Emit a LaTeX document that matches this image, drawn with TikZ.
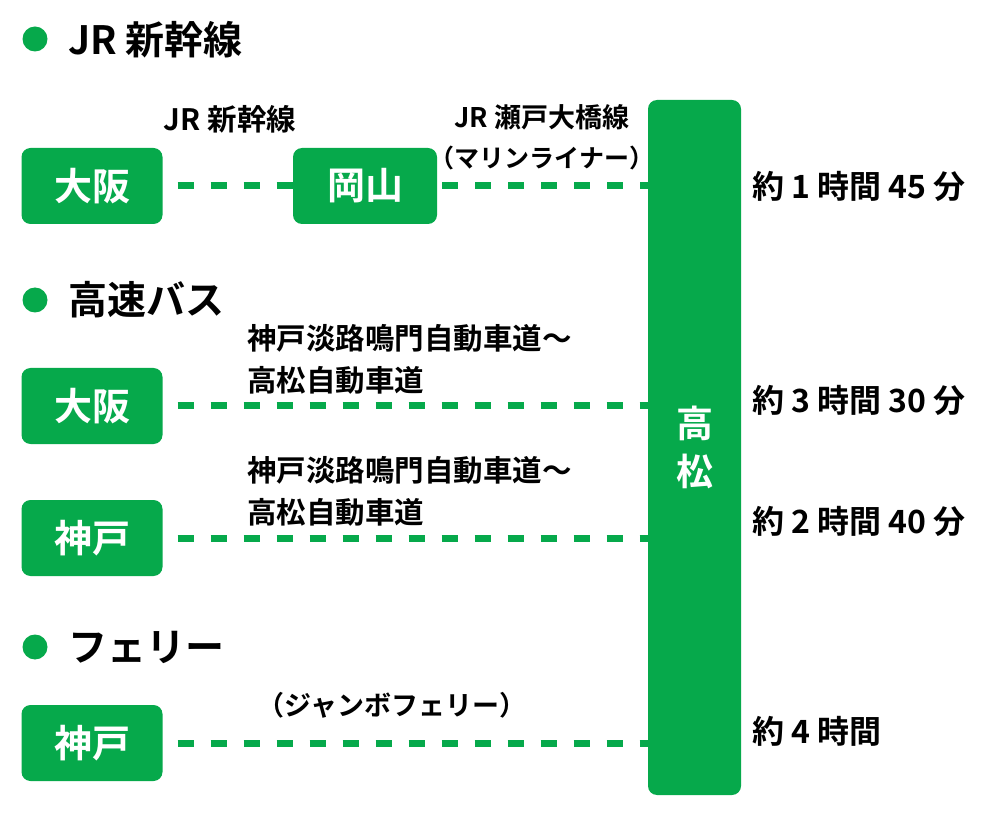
\documentclass[tikz,border=0pt]{standalone}
\usepackage{fontspec}
\setmainfont{Noto Sans CJK JP}[BoldFont={Noto Sans CJK JP Bold}]
\usepackage{tikz}
\usetikzlibrary{positioning}
\definecolor{routegreen}{HTML}{06A94B}
\tikzstyle{station}    = [rectangle, rounded corners=9pt, minimum width=141pt, minimum height=76pt,
    text centered, fill=routegreen, text=white, font=\bfseries\fontsize{38}{40}\selectfont]
\tikzstyle{heading}    = [anchor=west, inner sep=0pt, font=\bfseries\fontsize{39}{40}\selectfont]
\tikzstyle{bullet}     = [circle, fill=routegreen, minimum size=25pt, inner sep=0pt]
\tikzstyle{routelabel} = [inner sep=0pt, font=\bfseries\fontsize{29.5}{42}\selectfont]
\tikzstyle{duration}   = [anchor=west, inner sep=0pt, font=\bfseries\fontsize{32}{34}\selectfont]
\tikzstyle{route}      = [routegreen, line width=7pt, dash pattern=on 16pt off 17pt]
\begin{document}
\begin{tikzpicture}[x=1pt, y=-1pt]
    \useasboundingbox (0,0) rectangle (986,818);
    % headings
    \node (dotjr)    [bullet] at (35,39)  {};
    \node (headjr)   [heading] at (68,40)  {JR 新幹線};
    \node (dotbus)   [bullet] at (35,300) {};
    \node (headbus)  [heading] at (68,300) {高速バス};
    \node (dotferry) [bullet] at (35,647) {};
    \node (headferry)[heading] at (68,647) {フェリー};

    % stations
    \node (osaka1)    [station] at (92,186)  {大阪};
    \node (okayama)   [station, minimum width=144pt] at (365,186) {岡山};
    \node (osaka2)    [station] at (92,406)  {大阪};
    \node (kobe1)     [station] at (92,538)  {神戸};
    \node (kobe2)     [station] at (92,743)  {神戸};
    \node (takamatsu) [station, minimum width=93pt, minimum height=695pt, align=center,
        font=\bfseries\fontsize{37}{48}\selectfont] at (694.5,447.5) {高\\松};

    % routes
    \draw [route] ([xshift=15pt]osaka1.east) -- (okayama.west);
    \draw [route] ([xshift=5pt]okayama.east) -- (okayama.east -| takamatsu.west);
    \draw [route] ([xshift=15pt]osaka2.east) -- (osaka2.east -| takamatsu.west);
    \draw [route] ([xshift=15pt]kobe1.east)  -- (kobe1.east -| takamatsu.west);
    \draw [route] ([xshift=15pt]kobe2.east)  -- (kobe2.east -| takamatsu.west);

    % route names
    \node (shinkansen) [routelabel] at (230,119) {JR 新幹線};
    \node (seto)       [routelabel, align=center, font=\bfseries\fontsize{27}{40}\selectfont]
        at (542,137) {JR 瀬戸大橋線\\{\fontsize{25}{40}\selectfont（マリンライナー）}};
    \node (hwy1) [routelabel, align=left, anchor=west] at (247,359) {神戸淡路鳴門自動車道～\\高松自動車道};
    \node (hwy2) [routelabel, align=left, anchor=west] at (247,491) {神戸淡路鳴門自動車道～\\高松自動車道};
    \node (jumbo) [routelabel, font=\bfseries\fontsize{27}{30}\selectfont] at (392,705) {（ジャンボフェリー）};

    % times
    \node (time1) [duration] at (752,186) {約 1 時間 45 分};
    \node (time2) [duration] at (752,400) {約 3 時間 30 分};
    \node (time3) [duration] at (752,521) {約 2 時間 40 分};
    \node (time4) [duration] at (752,731) {約 4 時間};
\end{tikzpicture}
\end{document}
